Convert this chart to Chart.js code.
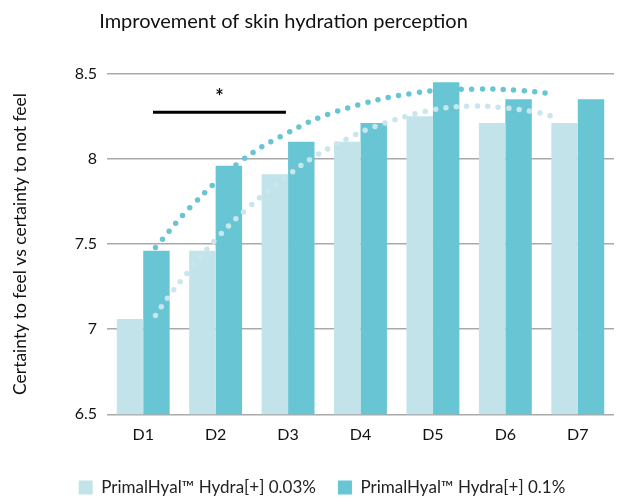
<!DOCTYPE html>
<html><head><meta charset="utf-8">
<script src="https://cdn.jsdelivr.net/npm/chart.js@4"></script>
<style>html,body{margin:0;padding:0;background:#fff}#c{display:block}</style>
</head><body>
<canvas id="c" width="628" height="497"></canvas>
<script>
const categories = ['D1','D2','D3','D4','D5','D6','D7'];
const seriesNames = ['PrimalHyal\u2122 Hydra[+] 0.03%', 'PrimalHyal\u2122 Hydra[+] 0.1%'];
const lowDose  = [7.06, 7.46, 7.91, 8.10, 8.25, 8.21, 8.21];
const highDose = [7.46, 7.96, 8.10, 8.21, 8.45, 8.35, 8.35];
// dotted trendlines (x in category-index units, D1 = 0)
const trendLowX  = [0.17, 0.33, 0.61, 1.01, 1.44, 2.02, 2.39, 2.92, 3.20, 3.91, 4.51, 4.96, 5.41, 5.69];
const trendLowY  = [7.08, 7.18, 7.33, 7.53, 7.71, 7.91, 8.02, 8.14, 8.19, 8.28, 8.31, 8.30, 8.275, 8.245];
const trendHighX = [0.17, 0.66, 1.33, 1.98, 2.68, 3.72, 4.62, 5.24, 5.69];
const trendHighY = [7.48, 7.72, 7.98, 8.15, 8.28, 8.385, 8.41, 8.40, 8.38];
// significance bracket
const sigX = [0.135, 1.97];
const sigY = [8.274, 8.274];
const sigLabel = '*';
const yTicks = [6.5, 7, 7.5, 8, 8.5];
const titleText = 'Improvement of skin hydration perception';
const yTitle = 'Certainty to feel vs certainty to not feel';

const FONT = 'Lato';
const DARK = '#68C5D3', LIGHT = '#C1E3E9', LIGHTDOT = '#C8E6EB';

const pts = (xs, ys) => xs.map((x, i) => ({x, y: ys[i]}));
const barPts = (vals) => vals.map((v, i) => ({x: i, y: v}));

const overlayPlugin = {
  id: 'overlayText',
  afterDraw(chart) {
    const ctx = chart.ctx;
    ctx.save();
    ctx.font = '20px ' + FONT;
    ctx.fillStyle = '#111';
    ctx.textAlign = 'center';
    ctx.textBaseline = 'alphabetic';
    ctx.fillText(titleText, 283.5, 28);
    const xs = chart.scales.x, ys = chart.scales.y;
    const cx = xs.getPixelForValue((sigX[0] + sigX[1]) / 2);
    const cy = ys.getPixelForValue(sigY[0]);
    ctx.font = 'bold 20px ' + FONT;
    ctx.textBaseline = 'middle';
    ctx.fillText(sigLabel, cx, cy - 15);
    ctx.restore();
  }
};

new Chart(document.getElementById('c'), {
  type: 'bar',
  data: {
    datasets: [
      { label: seriesNames[0], data: barPts(lowDose), backgroundColor: LIGHT, order: 3,
        categoryPercentage: 0.73, barPercentage: 1.0 },
      { label: seriesNames[1], data: barPts(highDose), backgroundColor: DARK, order: 3,
        categoryPercentage: 0.73, barPercentage: 1.0 },
      { type: 'line', label: 'trendLow', data: pts(trendLowX, trendLowY),
        borderColor: LIGHTDOT, borderWidth: 5.5, borderDash: [0, 10.5], borderCapStyle: 'round',
        pointRadius: 0, tension: 0.4, fill: false, order: 1 },
      { type: 'line', label: 'trendHigh', data: pts(trendHighX, trendHighY),
        borderColor: DARK, borderWidth: 5.5, borderDash: [0, 10.5], borderCapStyle: 'round',
        pointRadius: 0, tension: 0.4, fill: false, order: 1 },
      { type: 'line', label: 'sig', data: pts(sigX, sigY),
        borderColor: '#000', borderWidth: 3, pointRadius: 0, fill: false, order: 0 }
    ]
  },
  options: {
    responsive: false,
    animation: false,
    layout: { padding: { top: 73.7, right: 14, left: 30, bottom: -9 } },
    plugins: {
      title: { display: false },
      tooltip: { enabled: false },
      legend: {
        position: 'bottom',
        labels: {
          filter: (item) => item.datasetIndex < 2,
          boxWidth: 14, boxHeight: 14, padding: 22,
          color: '#222', font: { family: FONT, size: 17 }
        }
      }
    },
    scales: {
      x: {
        type: 'linear', min: -0.5, max: 6.5, offset: false,
        afterBuildTicks: (s) => { s.ticks = categories.map((c, i) => ({value: i})); },
        grid: { display: false, drawTicks: false },
        border: { display: false },
        ticks: { color: '#111', font: { family: FONT, size: 16 }, padding: 11,
                 callback: (v) => categories[v] },
        afterFit: (s) => { s.height = 42.7; }
      },
      y: {
        min: 6.5, max: 8.5,
        afterBuildTicks: (s) => { s.ticks = yTicks.map(v => ({value: v})); },
        grid: { color: '#A9A9A9', lineWidth: 1.4, drawTicks: false },
        border: { display: false },
        ticks: { color: '#111', font: { family: FONT, size: 16 }, padding: 10,
                 callback: (v) => String(v) },
        title: { display: true, text: yTitle, color: '#111',
                 font: { family: FONT, size: 17.5 }, padding: { top: -20, bottom: 0 } },
        afterFit: (s) => { s.width = 77; }
      }
    }
  },
  plugins: [overlayPlugin]
});
</script>
</body></html>
